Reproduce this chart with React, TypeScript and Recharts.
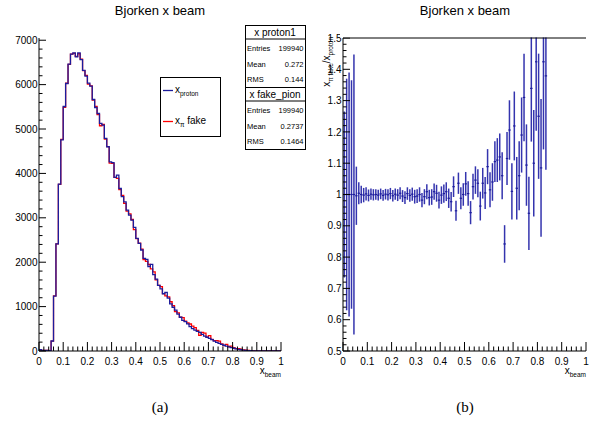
import {
  ComposedChart,
  Line,
  Scatter,
  ErrorBar,
  XAxis,
  YAxis,
} from "recharts";

const FONT = "'Liberation Sans', Arial, Helvetica, sans-serif";
const BLUE = "#1c1c9c";
const RED = "#ff0000";

// 100 bins of 0.01 between 0 and 1
const BIN_WIDTH = 0.01;

const PROTON_COUNTS = [
  28, 15, 13, 15, 10, 225, 1238, 2415, 3760, 4757,
  5507, 6025, 6460, 6685, 6715, 6625, 6715, 6565, 6320, 6190,
  6035, 5965, 5665, 5485, 5350, 5125, 5087, 4787, 4600, 4260,
  4245, 3910, 3960, 3660, 3475, 3360, 3175, 3060, 2950, 2785,
  2535, 2425, 2275, 2085, 2065, 1900, 1950, 1720, 1620, 1480,
  1400, 1290, 1320, 1190, 1060, 985, 920, 830, 760, 690,
  660, 610, 550, 505, 470, 440, 420, 375, 335, 310,
  285, 255, 222, 195, 170, 148, 130, 110, 92, 76,
  62, 50, 38, 28, 20, 15, 10, 7, 5, 3,
  2, 1, 1, 0, 0, 0, 0, 0, 0, 0,
];

const FAKE_PION_COUNTS = [
  28, 15, 13, 15, 10, 224, 1243, 2415, 3752, 4767,
  5490, 6031, 6454, 6685, 6702, 6638, 6695, 6572, 6314, 6209,
  6011, 5971, 5654, 5507, 5323, 5074, 5102, 4773, 4605, 4230,
  4224, 3910, 3889, 3634, 3506, 3326, 3150, 3088, 2962, 2735,
  2530, 2432, 2295, 2060, 2017, 1948, 1849, 1782, 1601, 1480,
  1448, 1294, 1243, 1220, 1109, 1020, 886, 860, 764, 751,
  670, 634, 608, 561, 526, 466, 354, 418, 404, 313,
  347, 260, 235, 232, 223, 162, 122, 147, 101, 108,
  78, 54, 54, 39, 24, 17, 12, 9, 6, 4,
  3, 2, 1, 0, 0, 0, 0, 0, 0, 0,
];

// ratio x_pi fake / x_proton for the first 84 bins
const RATIO = [
  1.0, 1.0, 1.0, 1.0, 1.0, 0.996, 1.004, 1.0, 0.998, 1.002,
  0.997, 1.001, 0.999, 1.0, 0.998, 1.002, 0.997, 1.001, 0.999, 1.003,
  0.996, 1.001, 0.998, 1.004, 0.995, 0.99, 1.003, 0.997, 1.001, 0.993,
  0.995, 1.0, 0.982, 0.993, 1.009, 0.99, 0.992, 1.009, 1.004, 0.982,
  0.998, 1.003, 1.009, 0.988, 0.977, 1.025, 0.948, 1.036, 0.988, 1.0,
  1.034, 1.003, 0.942, 1.025, 1.046, 1.036, 0.963, 1.036, 1.005, 1.089,
  1.015, 1.04, 1.105, 1.11, 1.12, 1.06, 0.842, 1.115, 1.206, 1.01,
  1.219, 1.02, 1.06, 1.19, 1.31, 1.094, 0.94, 1.339, 1.1, 1.424,
  1.25, 1.085, 1.424, 1.379,
];

const RATIO_ERR = [
  0.265, 0.37, 0.39, 0.365, 0.447, 0.093, 0.035, 0.028, 0.023, 0.021,
  0.019, 0.018, 0.018, 0.017, 0.017, 0.017, 0.017, 0.017, 0.018, 0.018,
  0.018, 0.018, 0.019, 0.019, 0.019, 0.02, 0.02, 0.02, 0.021, 0.022,
  0.022, 0.023, 0.023, 0.024, 0.024, 0.025, 0.025, 0.026, 0.027, 0.027,
  0.028, 0.029, 0.03, 0.031, 0.031, 0.033, 0.032, 0.034, 0.035, 0.036,
  0.038, 0.039, 0.037, 0.041, 0.044, 0.045, 0.046, 0.049, 0.051, 0.056,
  0.056, 0.06, 0.065, 0.07, 0.075, 0.075, 0.06, 0.085, 0.095, 0.09,
  0.11, 0.1, 0.11, 0.12, 0.14, 0.13, 0.117, 0.17, 0.17, 0.22,
  0.2, 0.22, 0.28, 0.3,
];

const STATS = [
  { name: "x proton1", entries: "199940", mean: "0.272", rms: "0.144" },
  { name: "x fake_pion", entries: "199940", mean: "0.2737", rms: "0.1464" },
];

// step outline: one point per lower bin edge, plus the closing edge at 1
const histData = PROTON_COUNTS.map((p, i) => ({
  x: i * BIN_WIDTH,
  proton: p,
  pion: FAKE_PION_COUNTS[i],
}));
histData.push({
  x: 1,
  proton: PROTON_COUNTS[PROTON_COUNTS.length - 1],
  pion: FAKE_PION_COUNTS[FAKE_PION_COUNTS.length - 1],
});

const ratioData = RATIO.map((r, i) => ({
  x: (i + 0.5) * BIN_WIDTH,
  r,
  err: RATIO_ERR[i],
  xerr: BIN_WIDTH / 2,
}));

function makeTicks(from: number, to: number, step: number) {
  const out: number[] = [];
  const n = Math.round((to - from) / step);
  for (let i = 0; i <= n; i++) out.push(+(from + i * step).toFixed(6));
  return out;
}

const X_TICKS = makeTicks(0, 1, 0.02);
const LEFT_Y_TICKS = makeTicks(0, 7000, 200);
const RIGHT_Y_TICKS = makeTicks(0.5, 1.5, 0.02);

const isMajor = (v: number, every: number) =>
  Math.abs(v / every - Math.round(v / every)) < 1e-6;

const fmt = (v: number) => String(Math.round(v * 10) / 10);

function XTick(props: any) {
  const { x, y, payload } = props;
  const major = isMajor(payload.value, 0.1);
  return (
    <g>
      <line x1={x} x2={x} y1={y} y2={y - (major ? 9 : 4.5)} stroke="#000" strokeWidth={1} />
      {major && (
        <text x={x} y={y + 13.5} textAnchor="middle" fontSize={10} fontFamily={FONT} fill="#000">
          {fmt(payload.value)}
        </text>
      )}
    </g>
  );
}

function makeYTick(every: number, format: (v: number) => string) {
  return function YTick(props: any) {
    const { x, y, payload } = props;
    const major = isMajor(payload.value, every);
    return (
      <g>
        <line x1={x} x2={x + (major ? 7 : 3.5)} y1={y} y2={y} stroke="#000" strokeWidth={1} />
        {major && (
          <text x={x - 1.5} y={y} dy="0.36em" textAnchor="end" fontSize={10} fontFamily={FONT} fill="#000">
            {format(payload.value)}
          </text>
        )}
      </g>
    );
  };
}

const LeftYTick = makeYTick(1000, (v) => String(v));
const RightYTick = makeYTick(0.1, fmt);

function StatsBox({ top, s }: { top: number; s: (typeof STATS)[number] }) {
  const left = 245;
  const w = 60;
  const rows = [
    ["Entries", s.entries],
    ["Mean", s.mean],
    ["RMS", s.rms],
  ];
  return (
    <g fontFamily={FONT} fill="#000">
      <rect x={left + 0.5} y={top + 0.5} width={w} height={62} fill="#fff" stroke="#000" strokeWidth={1} />
      <line x1={left} x2={left + w} y1={top + 14} y2={top + 14} stroke="#000" strokeWidth={1} />
      <text x={left + w / 2} y={top + 11} textAnchor="middle" fontSize={10}>
        {s.name}
      </text>
      {rows.map(([k, v], i) => (
        <g key={k}>
          <text x={left + 2} y={top + 26 + i * 15.5} fontSize={7.5}>
            {k}
          </text>
          <text x={left + w - 1.5} y={top + 26 + i * 15.5} fontSize={7.5} textAnchor="end">
            {v}
          </text>
        </g>
      ))}
    </g>
  );
}

export default function App() {
  return (
    <div
      style={{
        position: "absolute",
        left: 0,
        top: 0,
        width: 595,
        height: 432,
        background: "#fff",
        overflow: "hidden",
      }}
    >
      <div style={{ position: "absolute", left: 0, top: 0 }}>
        <ComposedChart
          width={300}
          height={432}
          data={histData}
          margin={{ top: 38, right: 19, bottom: 61, left: 0 }}
        >
          <XAxis
            dataKey="x"
            type="number"
            domain={[0, 1]}
            allowDataOverflow
            ticks={X_TICKS}
            interval={0}
            tick={<XTick />}
            tickLine={false}
            tickSize={0}
            tickMargin={0}
            height={20}
            axisLine={{ stroke: "#000" }}
          />
          <XAxis
            xAxisId="top"
            orientation="top"
            dataKey="x"
            type="number"
            domain={[0, 1]}
            tick={false}
            tickLine={false}
            height={0}
            axisLine={{ stroke: "#000" }}
          />
          <YAxis
            type="number"
            domain={[0, 7050]}
            allowDataOverflow
            ticks={LEFT_Y_TICKS}
            interval={0}
            tick={<LeftYTick />}
            tickLine={false}
            tickSize={0}
            tickMargin={0}
            width={39}
            axisLine={{ stroke: "#000" }}
          />
          <YAxis
            yAxisId="right"
            orientation="right"
            type="number"
            domain={[0, 7050]}
            tick={false}
            tickLine={false}
            width={0}
            axisLine={{ stroke: "#000" }}
          />
          <Line
            dataKey="pion"
            type="stepAfter"
            stroke={RED}
            strokeWidth={1.3}
            dot={false}
            isAnimationActive={false}
          />
          <Line
            dataKey="proton"
            type="stepAfter"
            stroke={BLUE}
            strokeWidth={1.3}
            dot={false}
            isAnimationActive={false}
          />
        </ComposedChart>
      </div>

      <div style={{ position: "absolute", left: 300, top: 0 }}>
        <ComposedChart
          width={295}
          height={432}
          data={ratioData}
          margin={{ top: 38, right: 9, bottom: 61, left: 0 }}
        >
          <XAxis
            dataKey="x"
            type="number"
            domain={[0, 1]}
            allowDataOverflow
            ticks={X_TICKS}
            interval={0}
            tick={<XTick />}
            tickLine={false}
            tickSize={0}
            tickMargin={0}
            height={20}
            axisLine={{ stroke: "#000" }}
          />
          <YAxis
            dataKey="r"
            type="number"
            domain={[0.5, 1.5]}
            allowDataOverflow
            ticks={RIGHT_Y_TICKS}
            interval={0}
            tick={<RightYTick />}
            tickLine={false}
            tickSize={0}
            tickMargin={0}
            width={43}
            axisLine={{ stroke: "#000" }}
          />
          <YAxis
            yAxisId="right"
            orientation="right"
            type="number"
            domain={[0.5, 1.5]}
            tick={false}
            tickLine={false}
            width={0}
            axisLine={{ stroke: "#000" }}
          />
          <Scatter
            dataKey="r"
            fill={BLUE}
            shape={() => <g />}
            isAnimationActive={false}
          >
            <ErrorBar dataKey="err" direction="y" width={0} stroke="#3434ae" strokeWidth={1.5} />
            <ErrorBar dataKey="xerr" direction="x" width={0} stroke={BLUE} strokeWidth={1.2} />
          </Scatter>
        </ComposedChart>
      </div>

      <svg
        width={595}
        height={432}
        style={{ position: "absolute", left: 0, top: 0, pointerEvents: "none" }}
      >
        {/* the error bars are not clipped by the library: hide whatever rises above the frame */}
        <rect x={340} y={0} width={255} height={37.5} fill="#fff" />
        <line x1={343} x2={586} y1={38} y2={38} stroke="#000" strokeWidth={1} />

        <g fontFamily={FONT} fill="#000">
          <text x={160} y={15} textAnchor="middle" fontSize={13}>
            Bjorken x beam
          </text>
          <text x={465} y={15} textAnchor="middle" fontSize={13}>
            Bjorken x beam
          </text>

          <text x={281} y={374} textAnchor="end" fontSize={10}>
            x<tspan fontSize={6.5} dy={2.5}>beam</tspan>
          </text>
          <text x={586} y={374} textAnchor="end" fontSize={10}>
            x<tspan fontSize={6.5} dy={2.5}>beam</tspan>
          </text>

          <text transform="translate(330,37) rotate(-90)" textAnchor="end" fontSize={10}>
            x<tspan fontSize={6.5} dy={2.5}>π fake</tspan>
            <tspan dy={-2.5}>/x</tspan>
            <tspan fontSize={6.5} dy={2.5}>proton</tspan>
          </text>

          {/* legend */}
          <rect x={160.5} y={77.5} width={60} height={59} fill="#fff" stroke="#000" strokeWidth={1} />
          <line x1={163} x2={173} y1={90.5} y2={90.5} stroke={BLUE} strokeWidth={1.3} />
          <text x={175} y={93} fontSize={10}>
            x<tspan fontSize={6.5} dy={2.5}>proton</tspan>
          </text>
          <line x1={163} x2={173} y1={121.5} y2={121.5} stroke={RED} strokeWidth={1.3} />
          <text x={175} y={124} fontSize={10}>
            x<tspan fontSize={6.5} dy={2.5}>π</tspan>
            <tspan dy={-2.5}> fake</tspan>
          </text>
        </g>

        <StatsBox top={25} s={STATS[0]} />
        <StatsBox top={87} s={STATS[1]} />

        <g fontFamily="'Liberation Serif', 'Times New Roman', serif" fill="#000" fontSize={15}>
          <text x={160} y={412} textAnchor="middle">
            (a)
          </text>
          <text x={465} y={412} textAnchor="middle">
            (b)
          </text>
        </g>
      </svg>
    </div>
  );
}
